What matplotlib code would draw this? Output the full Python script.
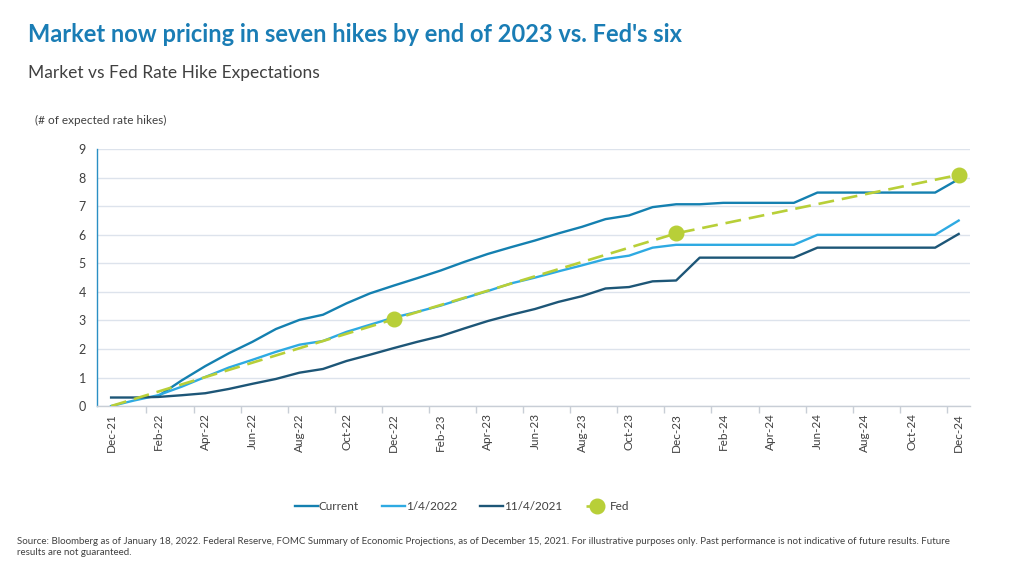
import numpy as np
import pandas as pd
import matplotlib
matplotlib.use("Agg")
import matplotlib.pyplot as plt
from matplotlib.ticker import FixedLocator

plt.rcParams['font.family'] = ['Lato', 'DejaVu Sans']

TITLE = "Market now pricing in seven hikes by end of 2023 vs. Fed's six"
SUBTITLE = "Market vs Fed Rate Hike Expectations"
YLABEL = "(# of expected rate hikes)"
SOURCE = ("Source: Bloomberg as of January 18, 2022. Federal Reserve, FOMC Summary of Economic Projections, "
          "as of December 15, 2021. For illustrative purposes only. Past performance is not indicative of future results. Future\n"
          "results are not guaranteed.")

# monthly categories Dec-21 .. Dec-24
months = pd.date_range('2021-12-01', periods=37, freq='MS').strftime('%b-%y').tolist()

nan = np.nan
current = [nan, nan, 0.35, 0.9, 1.4, 1.85, 2.25, 2.7, 3.02, 3.2, 3.6, 3.95,
           4.22, 4.48, 4.75, 5.05, 5.33, 5.57, 5.8, 6.05, 6.28, 6.55, 6.68, 6.97,
           7.07, 7.07, 7.12, 7.12, 7.12, 7.12, 7.48, 7.48, 7.48, 7.48, 7.48, 7.48,
           7.95]
jan4_2022 = [0.0, 0.2, 0.38, 0.68, 1.02, 1.35, 1.62, 1.9, 2.15, 2.28, 2.6, 2.85,
             3.1, 3.3, 3.52, 3.78, 4.03, 4.3, 4.5, 4.72, 4.93, 5.15, 5.27, 5.55,
             5.65, 5.65, 5.65, 5.65, 5.65, 5.65, 6.0, 6.0, 6.0, 6.0, 6.0, 6.0,
             6.5]
nov4_2021 = [0.3, 0.3, 0.32, 0.38, 0.45, 0.6, 0.78, 0.95, 1.17, 1.3, 1.58, 1.8,
             2.03, 2.25, 2.45, 2.72, 2.98, 3.2, 3.4, 3.65, 3.85, 4.12, 4.17, 4.37,
             4.4, 5.2, 5.2, 5.2, 5.2, 5.2, 5.55, 5.55, 5.55, 5.55, 5.55, 5.55,
             6.03]
fed_idx = [0, 12, 24, 36]
fed_vals = [0.0, 3.04, 6.05, 8.1]

C_CUR = '#1480b0'
C_JAN = '#2eaae2'
C_NOV = '#1d5677'
C_FED = '#b8cf38'
C_TXT = '#404040'
C_GRID = '#dde3ec'

fig = plt.figure(figsize=(10.24, 5.76), dpi=100)
ax = fig.add_axes([0.0947, 0.295, 0.853, 0.446])

x = np.arange(len(months))
ax.plot(x, current, color=C_CUR, lw=1.7, label='Current', zorder=3)
ax.plot(x, jan4_2022, color=C_JAN, lw=1.7, label='1/4/2022', zorder=3)
ax.plot(x, nov4_2021, color=C_NOV, lw=1.7, label='11/4/2021', zorder=3)
ax.plot(fed_idx, fed_vals, color=C_FED, lw=1.9, ls=(0, (6, 3)), marker='o',
        markersize=10.5, markevery=[1, 2, 3], label='Fed', zorder=4)

ax.set_xlim(-0.6, 36.5)
ax.set_ylim(0, 9)
ax.set_yticks(range(0, 10))
ax.grid(axis='y', color=C_GRID, lw=1)
ax.set_axisbelow(True)

ax.set_xticks(x[::2])
ax.set_xticklabels(months[::2], rotation=90, fontsize=8.5, color=C_TXT)
ax.xaxis.set_minor_locator(FixedLocator(np.arange(1.5, 36, 2)))
ax.tick_params(axis='x', which='major', length=0, pad=5)
ax.tick_params(axis='x', which='minor', length=5, color='#c8ced6', width=1)
ax.tick_params(axis='y', length=0, labelsize=9, labelcolor=C_TXT, pad=8)

for s in ['top', 'right']:
    ax.spines[s].set_visible(False)
ax.spines['left'].set_color('#2a8fc4')
ax.spines['left'].set_linewidth(1)
ax.spines['bottom'].set_color('#c8ced6')
ax.spines['bottom'].set_linewidth(1)

fig.text(0.027, 0.94, TITLE, fontsize=17, fontweight='bold', color='#1a7db5', va='center')
fig.text(0.027, 0.873, SUBTITLE, fontsize=12.5, color=C_TXT, va='center')
fig.text(0.034, 0.79, YLABEL, fontsize=8.5, color=C_TXT, va='center')
fig.text(0.017, 0.05, SOURCE, fontsize=7, color=C_TXT, va='center', linespacing=1.25)

leg = fig.legend(loc='center', bbox_to_anchor=(0.451, 0.121), ncol=4, frameon=False,
                 fontsize=8.5, handlelength=1.95, handletextpad=0.05, columnspacing=2.0)
for t in leg.get_texts():
    t.set_color(C_TXT)

fig.savefig('out.png', dpi=100, facecolor='white')
